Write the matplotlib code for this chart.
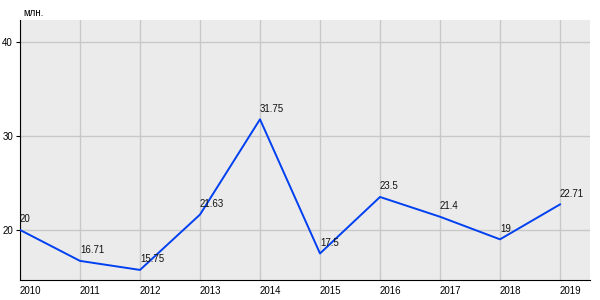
import matplotlib
matplotlib.use("Agg")
import matplotlib.pyplot as plt

years = [2010, 2011, 2012, 2013, 2014, 2015, 2016, 2017, 2018, 2019]
values = [20, 16.71, 15.75, 21.63, 31.75, 17.5, 23.5, 21.4, 19, 22.71]
labels = ["20", "16.71", "15.75", "21.63", "31.75", "17.5", "23.5", "21.4", "19", "22.71"]
yticks = [20, 30, 40]

plt.rcParams['font.family'] = ['Liberation Sans', 'DejaVu Sans']
fig = plt.figure(figsize=(6, 3), dpi=100)
ax = fig.add_axes([20/600, 20/300, 570/600, 260/300])
ax.set_facecolor('#EBEBEB')
ax.plot(years, values, color='#0040F0', lw=1.4, zorder=3)
for x, y, t in zip(years, values, labels):
    ax.annotate(t, (x, y), xytext=(0, 4), textcoords='offset points',
                ha='left', va='bottom', fontsize=7, color='#111111', zorder=4)
ax.set_xlim(2010, 2019.5)
ax.set_ylim(14.68, 42.3)
ax.set_xticks(years)
ax.set_xticklabels([str(y) for y in years], ha='left')
ax.set_yticks(yticks)
ax.grid(True, color='#C8C8C8', lw=1)
ax.set_axisbelow(True)
for s in ['top', 'right']:
    ax.spines[s].set_visible(False)
ax.spines['left'].set_color('black')
ax.spines['bottom'].set_color('black')
ax.tick_params(axis='x', length=0, labelsize=7, pad=4)
ax.tick_params(axis='y', length=3, labelsize=7, pad=2)
fig.text(23/600, 1 - 13/300, 'млн.', fontsize=7, ha='left', va='center')
fig.savefig('out.png', dpi=100)
